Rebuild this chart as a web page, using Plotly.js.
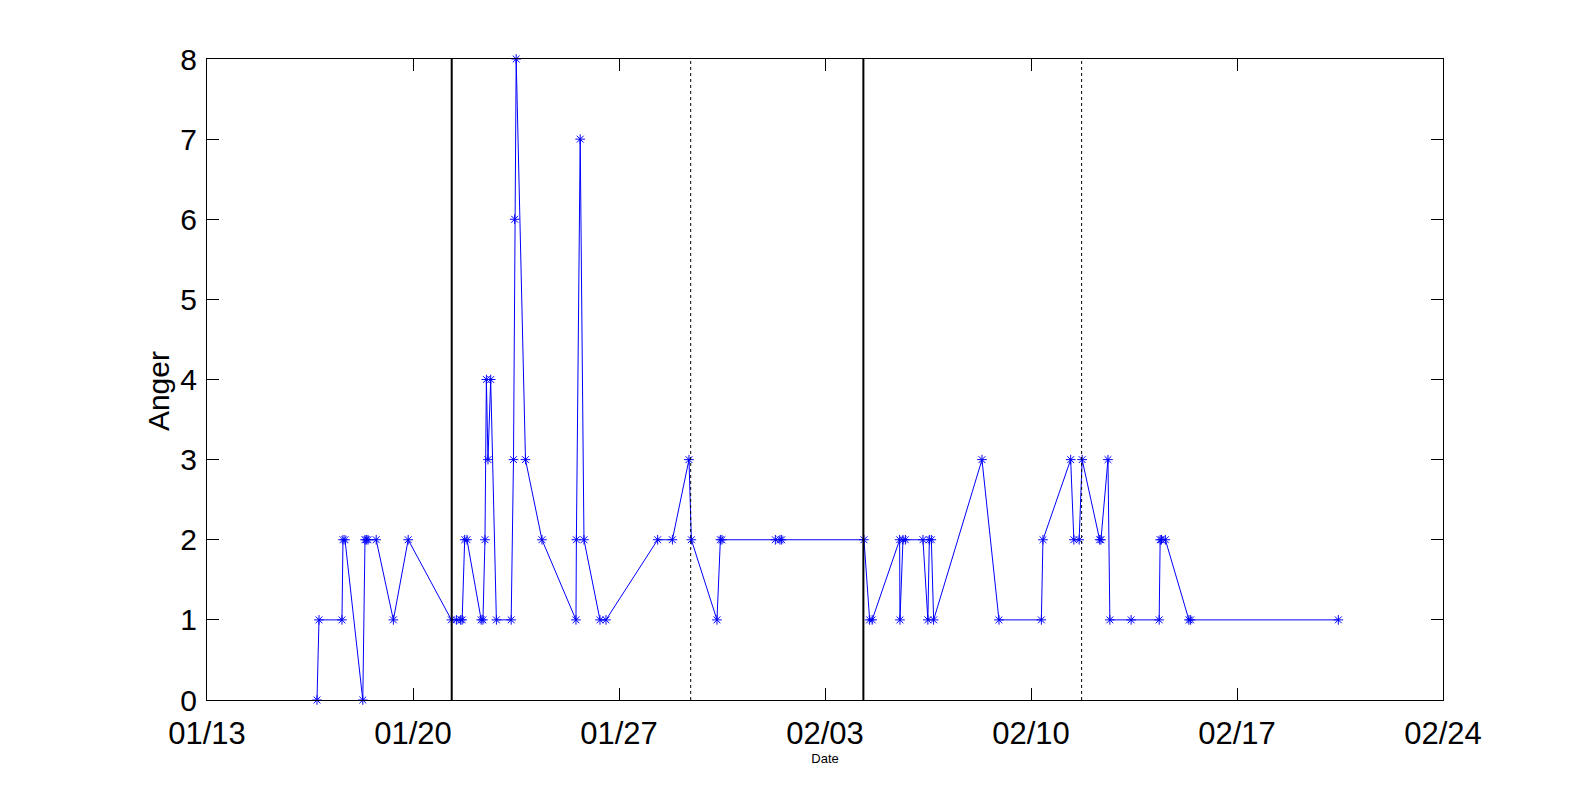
<!DOCTYPE html>
<html>
<head>
<meta charset="utf-8">
<script src="https://cdn.plot.ly/plotly-3.0.1.min.js"></script>
<style>html,body{margin:0;padding:0;background:#fff;}#chart{width:1595px;height:792px;}</style>
</head>
<body>
<div id="chart"></div>
<script>
const times = [
  '2014-01-16 17:43','2014-01-16 19:20','2014-01-17 14:05','2014-01-17 14:54','2014-01-17 16:32',
  '2014-01-18 07:03','2014-01-18 08:51','2014-01-18 09:59','2014-01-18 11:18','2014-01-18 17:59',
  '2014-01-19 08:00','2014-01-19 20:05','2014-01-21 07:18','2014-01-21 11:23','2014-01-21 14:53',
  '2014-01-21 16:06','2014-01-21 18:09','2014-01-21 20:02','2014-01-22 07:37','2014-01-22 09:04',
  '2014-01-22 10:42','2014-01-22 11:51','2014-01-22 13:09','2014-01-22 15:22','2014-01-22 20:00',
  '2014-01-23 08:04','2014-01-23 09:57','2014-01-23 10:55','2014-01-23 12:09','2014-01-23 19:44',
  '2014-01-24 09:11','2014-01-25 12:55','2014-01-25 13:15','2014-01-25 16:21','2014-01-25 19:26',
  '2014-01-26 08:30','2014-01-26 13:23','2014-01-28 07:32','2014-01-28 19:32','2014-01-29 09:04',
  '2014-01-29 11:01','2014-01-30 07:54','2014-01-30 10:40','2014-01-30 11:58','2014-02-01 07:31',
  '2014-02-01 11:16','2014-02-01 12:40','2014-02-04 07:47','2014-02-04 12:26','2014-02-04 14:28',
  '2014-02-05 12:53','2014-02-05 13:08','2014-02-05 15:35','2014-02-05 17:32','2014-02-06 07:54',
  '2014-02-06 11:53','2014-02-06 13:06','2014-02-06 14:44','2014-02-06 16:36','2014-02-08 08:01',
  '2014-02-08 21:52','2014-02-10 08:27','2014-02-10 09:45','2014-02-11 08:21','2014-02-11 10:57',
  '2014-02-11 15:16','2014-02-11 17:43','2014-02-12 08:00','2014-02-12 09:03','2014-02-12 14:46',
  '2014-02-12 16:19','2014-02-13 09:40','2014-02-14 08:31','2014-02-14 09:20','2014-02-14 10:24',
  '2014-02-14 13:35','2014-02-15 08:48','2014-02-15 10:12','2014-02-20 10:39'
];
const anger = [
  0,1,1,2,2,
  0,2,2,2,2,
  1,2,1,1,1,
  1,2,2,1,1,
  2,4,3,4,1,
  1,3,6,8,3,
  2,1,2,7,2,
  1,1,2,2,3,
  2,1,2,2,2,
  2,2,2,1,1,
  2,1,2,2,2,
  1,2,2,1,3,
  1,1,2,3,2,
  2,3,2,2,3,
  1,1,1,2,2,
  2,1,1,1
];
const solidLines = ['2014-01-21 07:34','2014-02-04 07:18'];
const dottedLines = ['2014-01-29 10:28','2014-02-11 17:18'];
const tickDates = ['2014-01-13','2014-01-20','2014-01-27','2014-02-03','2014-02-10','2014-02-17','2014-02-24'];
const tickLabels = ['01/13','01/20','01/27','02/03','02/10','02/17','02/24'];
const yTicks = [0,1,2,3,4,5,6,7,8];
const xTitle = 'Date';
const yTitle = 'Anger';

const FONT = 'Liberation Sans, Arial, Helvetica, sans-serif';

const shapes = [];
solidLines.forEach(d => shapes.push({type:'line', xref:'x', yref:'paper', x0:d, x1:d, y0:0, y1:1,
  line:{color:'#000', width:2}}));
dottedLines.forEach(d => shapes.push({type:'line', xref:'x', yref:'paper', x0:d, x1:d, y0:0, y1:1,
  line:{color:'#000', width:1, dash:'dot'}}));

const trace = {
  x: times, y: anger, type:'scatter', mode:'lines+markers',
  line:{color:'#0000ff', width:1},
  marker:{symbol:'asterisk-open', size:8, color:'#0000ff', line:{color:'#0000ff', width:1}},
  cliponaxis:false, hoverinfo:'skip'
};

const layout = {
  width:1595, height:792,
  margin:{l:207, r:152, t:59, b:92, pad:0},
  paper_bgcolor:'#fff', plot_bgcolor:'#fff',
  showlegend:false,
  font:{family:FONT, color:'#000'},
  xaxis:{
    type:'date', range:['2014-01-13','2014-02-24'],
    tickmode:'array', tickvals:tickDates, ticktext:tickLabels,
    ticks:'inside', ticklen:12, tickwidth:1, tickcolor:'#000',
    showline:true, linecolor:'#000', linewidth:1, mirror:'ticks',
    showgrid:false, zeroline:false,
    tickfont:{family:FONT, size:31, color:'#000'},
    ticklabelstandoff:6,
    title:{text:xTitle, font:{family:FONT, size:13, color:'#000'}, standoff:1}
  },
  yaxis:{
    range:[0,8], tickmode:'array', tickvals:yTicks,
    ticks:'inside', ticklen:12, tickwidth:1, tickcolor:'#000',
    showline:true, linecolor:'#000', linewidth:1, mirror:'ticks',
    showgrid:false, zeroline:false,
    tickfont:{family:FONT, size:30, color:'#000'},
    ticklabelstandoff:3
  },
  annotations:[{
    text:yTitle, textangle:-90, showarrow:false,
    xref:'paper', yref:'paper', x:-0.0396, y:0.482, xanchor:'center', yanchor:'middle',
    font:{family:FONT, size:30, color:'#000'}
  }],
  shapes: shapes
};

Plotly.newPlot('chart', [trace], layout, {displayModeBar:false, staticPlot:true});
</script>
</body>
</html>
